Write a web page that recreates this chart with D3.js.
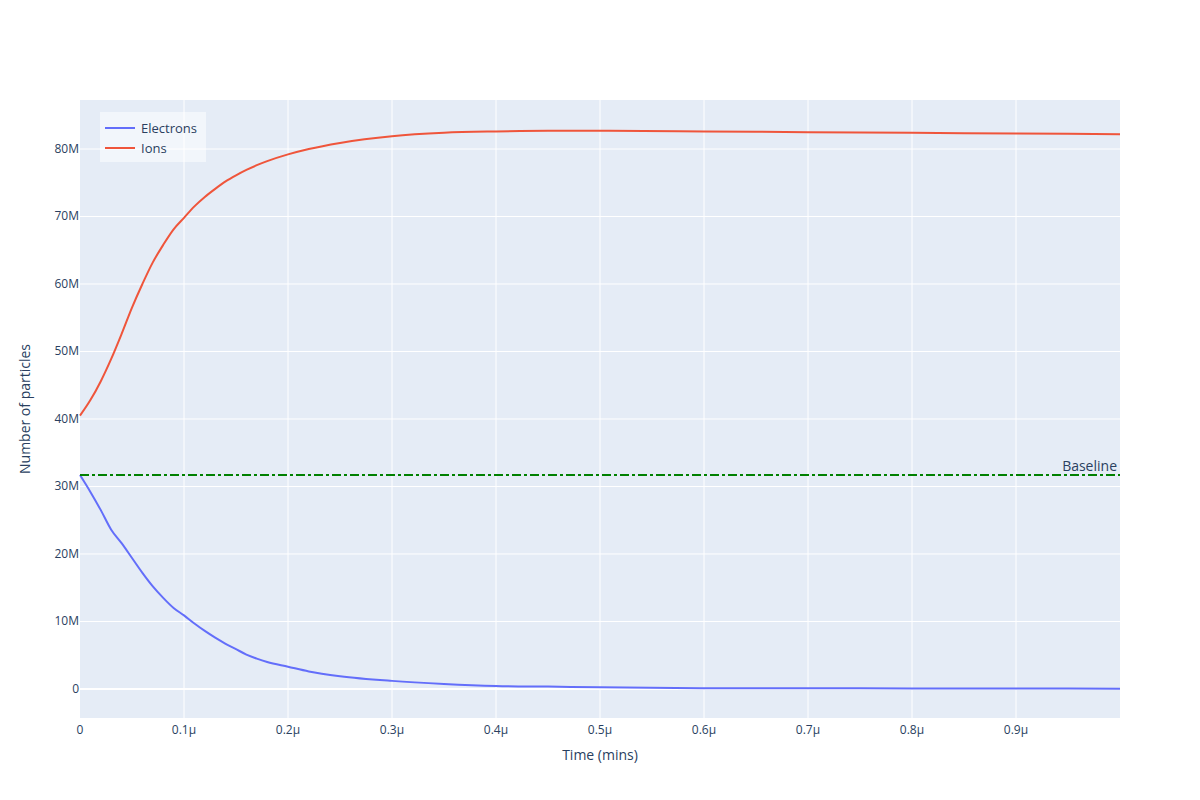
<!DOCTYPE html>
<html><head><meta charset="utf-8">
<script src="https://cdn.jsdelivr.net/npm/d3@7"></script>
<style>body{margin:0;background:#fff}text{font-family:"Open Sans",Arial,sans-serif;fill:#2a3f5f}</style>
</head><body><svg id="c" width="1200" height="800"></svg>
<script>
const timeX = [0,0.01,0.02,0.03,0.04,0.05,0.06,0.07,0.08,0.09,0.1,0.11,0.12,0.13,0.14,0.15,0.16,0.17,0.18,0.2,0.22,0.25,0.3,0.35,0.4,0.45,0.5,0.6,0.7,0.8,0.9,1.0];
const electrons = [31.7,29.2,26.5,23.6,21.6,19.4,17.2,15.2,13.5,12.0,10.9,9.7,8.6,7.6,6.7,5.9,5.1,4.5,4.0,3.3,2.6,1.9,1.2,0.75,0.45,0.35,0.25,0.12,0.1,0.08,0.06,0.05];
const ions = [40.5,42.8,45.6,48.9,52.6,56.5,60.0,63.2,65.8,68.1,69.8,71.5,72.9,74.1,75.2,76.1,76.9,77.6,78.2,79.2,80.0,80.9,81.9,82.4,82.6,82.7,82.7,82.6,82.5,82.4,82.3,82.2];
const baseline = 31.7;
const xTicks = [0,0.1,0.2,0.3,0.4,0.5,0.6,0.7,0.8,0.9];
const yTicks = [0,10,20,30,40,50,60,70,80];

const svg = d3.select('#c');
const L=80,R=1120,T=100,B=718;
const x = d3.scaleLinear().domain([0,1.0]).range([L,R]);
const y = d3.scaleLinear().domain([-4.3,87.26]).range([B,T]);
svg.append('rect').attr('x',L).attr('y',T).attr('width',R-L).attr('height',B-T).attr('fill','#e5ecf6');
xTicks.forEach(t=>{ if(t>0) svg.append('line').attr('x1',x(t)).attr('x2',x(t)).attr('y1',T).attr('y2',B).attr('stroke','#fff').attr('stroke-width',1);
  svg.append('text').attr('x',x(t)).attr('y',B+16).attr('text-anchor','middle').attr('font-size',12).text(t===0?'0':d3.format('.1f')(t).replace(/^0/,'0')+'μ');});
yTicks.forEach(t=>{ svg.append('line').attr('x1',L).attr('x2',R).attr('y1',y(t)).attr('y2',y(t)).attr('stroke','#fff').attr('stroke-width',t===0?2:1);
  svg.append('text').attr('x',L-2-0).attr('dx',-0).attr('y',y(t)+4).attr('text-anchor','end').attr('font-size',12).text(t===0?'0':t+'M');});
svg.selectAll('text').filter(function(){return d3.select(this).attr('text-anchor')==='end';}).attr('x',L-1);
const line = d3.line().x((d,i)=>x(timeX[i])).y(d=>y(d)).curve(d3.curveMonotoneX);
svg.append('path').datum(electrons).attr('d',line).attr('fill','none').attr('stroke','#636efa').attr('stroke-width',2);
svg.append('path').datum(ions).attr('d',line).attr('fill','none').attr('stroke','#ef553b').attr('stroke-width',2);
svg.append('line').attr('x1',L).attr('x2',R).attr('y1',y(baseline)).attr('y2',y(baseline)).attr('stroke','green').attr('stroke-width',2).attr('stroke-dasharray','9,3,3,3');
svg.append('text').attr('x',R-3).attr('y',y(baseline)-4).attr('text-anchor','end').attr('font-size',14).text('Baseline');
svg.append('text').attr('x',600).attr('y',760).attr('text-anchor','middle').attr('font-size',14).text('Time (mins)');
svg.append('text').attr('transform','translate(30,409) rotate(-90)').attr('text-anchor','middle').attr('font-size',14).text('Number of particles');
const lg = svg.append('g');
lg.append('rect').attr('x',100).attr('y',112).attr('width',106).attr('height',50).attr('fill','rgba(255,255,255,0.5)');
[['Electrons','#636efa'],['Ions','#ef553b']].forEach((d,i)=>{
  lg.append('line').attr('x1',105).attr('x2',135).attr('y1',128+i*20).attr('y2',128+i*20).attr('stroke',d[1]).attr('stroke-width',2);
  lg.append('text').attr('x',141).attr('y',133+i*20).attr('font-size',13).text(d[0]);
});
</script></body></html>
